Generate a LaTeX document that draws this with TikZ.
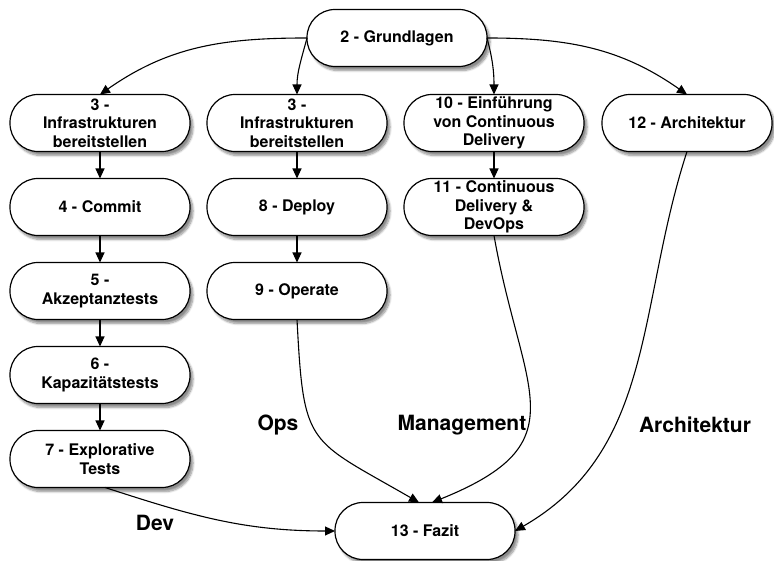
\documentclass[tikz,border=0pt]{standalone}
\usepackage{fontspec}
\setmainfont{TeX Gyre Heros}
\usetikzlibrary{positioning,arrows.meta,shadows.blur}
\tikzset{
    stepnode/.style = {
        align=center,
        font=\fontsize{16}{18.5}\selectfont\bfseries,
        rectangle,
        rounded corners=28pt,
        draw=black,
        line width=1.2pt,
        fill=white,
        minimum width=180pt,
        minimum height=57pt,
        inner sep=1pt,
        outer sep=0pt,
        blur shadow={shadow xshift=3pt, shadow yshift=-4pt, shadow blur steps=8, shadow opacity=45}
    },
    tracklabel/.style = {
        font=\fontsize{21}{25}\selectfont\bfseries
    },
    flow/.style = {
        -{Triangle[length=10pt,width=9pt]},
        line width=1.1pt
    }
}
\begin{document}
\begin{tikzpicture}[x=1pt, y=1pt]
    \useasboundingbox (0,0) rectangle (774,561);
    % top
    \node [stepnode] (grundlagen) at (397,523) {2 - Grundlagen};
    % second row
    \node [stepnode] (infraDev) at (100,438) {3 -\\Infrastrukturen\\bereitstellen};
    \node [stepnode, right=17pt of infraDev] (infraOps) {3 -\\Infrastrukturen\\bereitstellen};
    \node [stepnode, right=17pt of infraOps] (einfuehrung) {10 - Einführung\\von Continuous\\Delivery};
    \node [stepnode, minimum width=170pt, right=18pt of einfuehrung] (architektur) {12 - Architektur};
    % dev column
    \node [stepnode, below=27pt of infraDev] (commit) {4 - Commit};
    \node [stepnode, below=27pt of commit] (akzeptanz) {5 -\\Akzeptanztests};
    \node [stepnode, below=27pt of akzeptanz] (kapazitaet) {6 -\\Kapazitätstests};
    \node [stepnode, below=27pt of kapazitaet] (explorativ) {7 - Explorative\\Tests};
    % ops column
    \node [stepnode, below=27pt of infraOps] (deploy) {8 - Deploy};
    \node [stepnode, below=27pt of deploy] (operate) {9 - Operate};
    % management column
    \node [stepnode, below=27pt of einfuehrung] (devops) {11 - Continuous\\Delivery \&\\DevOps};
    % bottom
    \node [stepnode] (fazit) at (425,30) {13 - Fazit};

    % track labels
    \node [tracklabel] (dev) at (155,38) {Dev};
    \node [tracklabel] (ops) at (278,136) {Ops};
    \node [tracklabel] (management) at (462,136) {Management};
    \node [tracklabel] (archLabel) at (695,136) {Architektur};

    % connectors
    \draw [flow] (grundlagen.west) to[out=180, in=35] (infraDev.north);
    \draw [flow] (grundlagen.west) to[out=-105, in=90] (infraOps.north);
    \draw [flow] (grundlagen.east) to[out=-75, in=90] (einfuehrung.north);
    \draw [flow] (grundlagen.east) to[out=0, in=145] (architektur.north);
    \draw [flow] (infraDev) -- (commit);
    \draw [flow] (commit) -- (akzeptanz);
    \draw [flow] (akzeptanz) -- (kapazitaet);
    \draw [flow] (kapazitaet) -- (explorativ);
    \draw [flow] (infraOps) -- (deploy);
    \draw [flow] (deploy) -- (operate);
    \draw [flow] (einfuehrung) -- (devops);
    \draw [flow] ([xshift=5pt]explorativ.south) to[out=-18, in=180] (fazit.west);
    \draw [flow] (operate.south) to[out=-87, in=150, looseness=1.5] ([xshift=-6pt]fazit.north);
    \draw [flow] (devops.south) to[out=-80, in=22, looseness=1.5] ([xshift=7pt]fazit.north);
    \draw [flow] (architektur.south) to[out=-108, in=30] (fazit.east);
\end{tikzpicture}
\end{document}
